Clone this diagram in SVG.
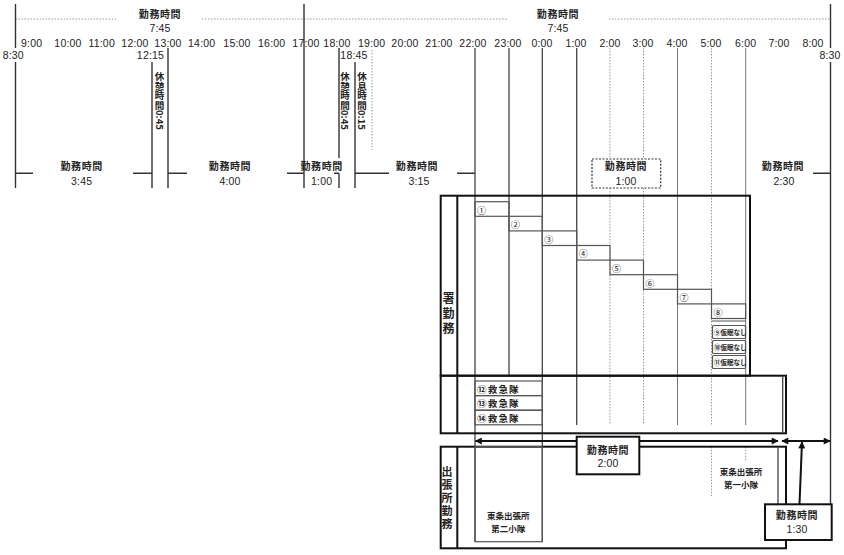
<svg xmlns="http://www.w3.org/2000/svg" width="844" height="555" viewBox="0 0 844 555">
<defs>
<marker id="ah" viewBox="0 0 10 10" refX="9" refY="5" markerWidth="8" markerHeight="7" markerUnits="userSpaceOnUse" orient="auto-start-reverse">
<path d="M0,0 L10,5 L0,10 z" fill="#111"/>
</marker>
</defs>
<style>
text{font-family:"Liberation Sans","Noto Sans CJK JP",sans-serif;fill:#222}
.j{font-family:"Noto Sans CJK JP",sans-serif;font-size:10px;font-weight:700;letter-spacing:0.6px}
.b{font-family:"Noto Sans CJK JP",sans-serif;font-size:8.5px;font-weight:700}
.n{font-size:10.5px;letter-spacing:0.2px}
.m{text-anchor:middle}
.v{writing-mode:vertical-rl;font-family:"Noto Sans CJK JP",sans-serif;font-size:9.5px;font-weight:700}
.vl{writing-mode:vertical-rl;font-family:"Noto Sans CJK JP",sans-serif;font-weight:700}
.c{font-family:"Noto Sans CJK JP",sans-serif;font-size:9px}
.s{font-family:"Noto Sans CJK JP",sans-serif;font-size:6.5px;font-weight:700}
.k{font-family:"Noto Sans CJK JP",sans-serif;font-size:9.5px;font-weight:700;letter-spacing:1.2px}
.tl{stroke:#333;stroke-width:1.4;fill:none}
.dk{stroke:#444;stroke-width:1.3;fill:none}
.gl{stroke:#777;stroke-width:1;fill:none}
.dt{stroke:#999;stroke-width:1;stroke-dasharray:1.5 1.5;fill:none}
.box{stroke:#111;stroke-width:2;fill:none}
.cell{stroke:#555;stroke-width:1.2;fill:none}
.wb{stroke:#111;stroke-width:2;fill:#fff}
.ar{stroke:#111;stroke-width:2;fill:none}
</style>

<g id="timeline">
<path class="dt" d="M15.5,19H117M202,19H508M609,19H830"/>
<path class="tl" d="M15.5,4V48M15.5,62V188M830.5,4V48M830.5,62V504M304,4V188M152,62V188M168,48V188M339,48V158M339,173.3V188M355,62V188"/>
<path class="dt" d="M372,50V150"/>
<path class="tl" d="M15.5,173.3H33M133,173.3H152M168,173.3H187M287,173.3H304M334,173.3H339M355,173.3H389M457,173.3H475M813,173.3H830.5"/>
<path class="dk" d="M475,48V541.7M509,48V375.7M542.3,48V541.7M576.7,48V425"/>
<path class="dt" d="M610,48V159M610,188V425M643.5,48V159M643.5,188V425M711.5,48V425M711.5,446.7V496.7M745.7,446.7V462"/>
<path class="gl" d="M677.5,48V425M745.7,48V425"/>
<text class="j m" x="160" y="17.5">勤務時間</text>
<text class="n m" x="160" y="32">7:45</text>
<text class="j m" x="558" y="17.5">勤務時間</text>
<text class="n m" x="558" y="32">7:45</text>
<g class="n m">
<text x="31.7" y="47">9:00</text><text x="68" y="47">10:00</text><text x="101.7" y="47">11:00</text><text x="135" y="47">12:00</text>
<text x="168" y="47">13:00</text><text x="201.7" y="47">14:00</text><text x="237" y="47">15:00</text><text x="271.7" y="47">16:00</text>
<text x="306" y="47">17:00</text><text x="337" y="47">18:00</text><text x="371.7" y="47">19:00</text><text x="405" y="47">20:00</text>
<text x="439" y="47">21:00</text><text x="473" y="47">22:00</text><text x="508" y="47">23:00</text><text x="542" y="47">0:00</text>
<text x="576" y="47">1:00</text><text x="610" y="47">2:00</text><text x="643" y="47">3:00</text><text x="677" y="47">4:00</text>
<text x="711" y="47">5:00</text><text x="745.7" y="47">6:00</text><text x="779" y="47">7:00</text><text x="813" y="47">8:00</text>
<text x="13.3" y="59">8:30</text><text x="830" y="59">8:30</text>
<text x="150.5" y="59">12:15</text><text x="354" y="59">18:45</text>
</g>
<text class="v" x="159.5" y="72">休憩時間0:45</text>
<text class="v" x="345" y="72">休憩時間0:45</text>
<text class="v" x="362" y="72">休息時間0:15</text>
<text class="j m" x="81.7" y="169.5">勤務時間</text><text class="n m" x="81.7" y="185">3:45</text>
<text class="j m" x="230" y="169.5">勤務時間</text><text class="n m" x="230" y="185">4:00</text>
<text class="j m" x="321.7" y="169.5">勤務時間</text><text class="n m" x="321.7" y="185">1:00</text>
<text class="j m" x="417" y="169.5">勤務時間</text><text class="n m" x="419" y="185">3:15</text>
<text class="j m" x="783" y="169.5">勤務時間</text><text class="n m" x="784" y="185">2:30</text>
</g>

<g id="night-break">
<rect x="592" y="159" width="68.7" height="29" fill="#fff" stroke="#333" stroke-width="1.2" stroke-dasharray="2 1.5"/>
<text class="j m" x="626" y="170">勤務時間</text>
<text class="n m" x="626" y="185">1:00</text>
</g>

<g id="station-duty">
<rect class="box" x="440.7" y="195.7" width="309.3" height="180"/>
<line class="box" x1="457.3" y1="195.7" x2="457.3" y2="375.7"/>
<text class="vl" x="448.5" y="292" style="font-size:12px;letter-spacing:3px">署勤務</text>
<g class="cell">
<rect x="475" y="201.7" width="34" height="14.6"/>
<rect x="509" y="216.3" width="33.3" height="14.6"/>
<rect x="542.3" y="230.9" width="34.4" height="14.6"/>
<rect x="576.7" y="245.5" width="33.3" height="14.6"/>
<rect x="610" y="260.1" width="33.5" height="14.6"/>
<rect x="643.5" y="274.7" width="34" height="14.6"/>
<rect x="677.5" y="289.3" width="34" height="14.6"/>
<rect x="711.5" y="303.9" width="34.2" height="14.6"/>
<line x1="711.5" y1="321" x2="745.7" y2="321"/>
<rect x="712.5" y="325.5" width="33" height="13" rx="1"/>
<rect x="712.5" y="340.5" width="33" height="13" rx="1"/>
<rect x="712.5" y="355.5" width="33" height="13" rx="1"/>
</g>
<g class="c">
<text x="477" y="213.5">①</text><text x="511" y="228">②</text><text x="544.3" y="242.5">③</text>
<text x="578.7" y="257">④</text><text x="612" y="271.5">⑤</text><text x="645.5" y="286.5">⑥</text>
<text x="679.5" y="301">⑦</text><text x="713.5" y="315.5">⑧</text>
</g>
<text class="s" x="714" y="334.5">⑨仮眠なし</text>
<text class="s" x="714" y="349.5">⑩仮眠なし</text>
<text class="s" x="714" y="364.5">⑪仮眠なし</text>
</g>

<g id="ambulance">
<rect class="box" x="440.7" y="375.7" width="345.3" height="57.6"/>
<path class="box" d="M457.3,375.7V433.3"/>
<path class="dk" d="M782.7,375.7V433.3"/>
<g class="cell">
<rect x="475" y="381" width="67.3" height="14.6"/>
<rect x="475" y="395.6" width="67.3" height="14.6"/>
<rect x="475" y="410.2" width="67.3" height="14.6"/>
</g>
<text class="k" x="477" y="392.5">⑫救急隊</text>
<text class="k" x="477" y="407">⑬救急隊</text>
<text class="k" x="477" y="421.5">⑭救急隊</text>
</g>

<g id="branch-duty">
<rect class="box" x="440.7" y="446.7" width="345.3" height="101.6"/>
<path class="box" d="M457.3,446.7V548.3"/>
<path class="dk" d="M778,446.7V504"/>
<text class="vl" x="447" y="466" style="font-size:11px;letter-spacing:2.2px">出張所勤務</text>
<rect class="cell" x="475" y="446.7" width="67.3" height="95"/>
<text class="b m" x="508.3" y="519">東条出張所</text>
<text class="b m" x="508.3" y="532">第二小隊</text>
<text class="b m" x="741" y="475">東条出張所</text>
<text class="b m" x="741" y="488">第一小隊</text>
</g>

<g id="connectors">
<line class="ar" x1="475.5" y1="441" x2="778" y2="441" marker-start="url(#ah)" marker-end="url(#ah)"/>
<line class="ar" x1="782" y1="441" x2="830" y2="441" marker-start="url(#ah)" marker-end="url(#ah)"/>
<line class="ar" x1="799.5" y1="504" x2="802" y2="442" marker-end="url(#ah)"/>
</g>

<g id="work-2h">
<rect class="wb" x="576.7" y="436.7" width="62.6" height="37.6"/>
<text class="j m" x="608" y="453.5">勤務時間</text>
<text class="n m" x="608" y="467">2:00</text>
</g>

<g id="work-1h30">
<rect class="wb" x="765" y="504.3" width="66.7" height="35.7"/>
<text class="j m" x="797" y="519">勤務時間</text>
<text class="n m" x="797" y="533">1:30</text>
</g>
</svg>
